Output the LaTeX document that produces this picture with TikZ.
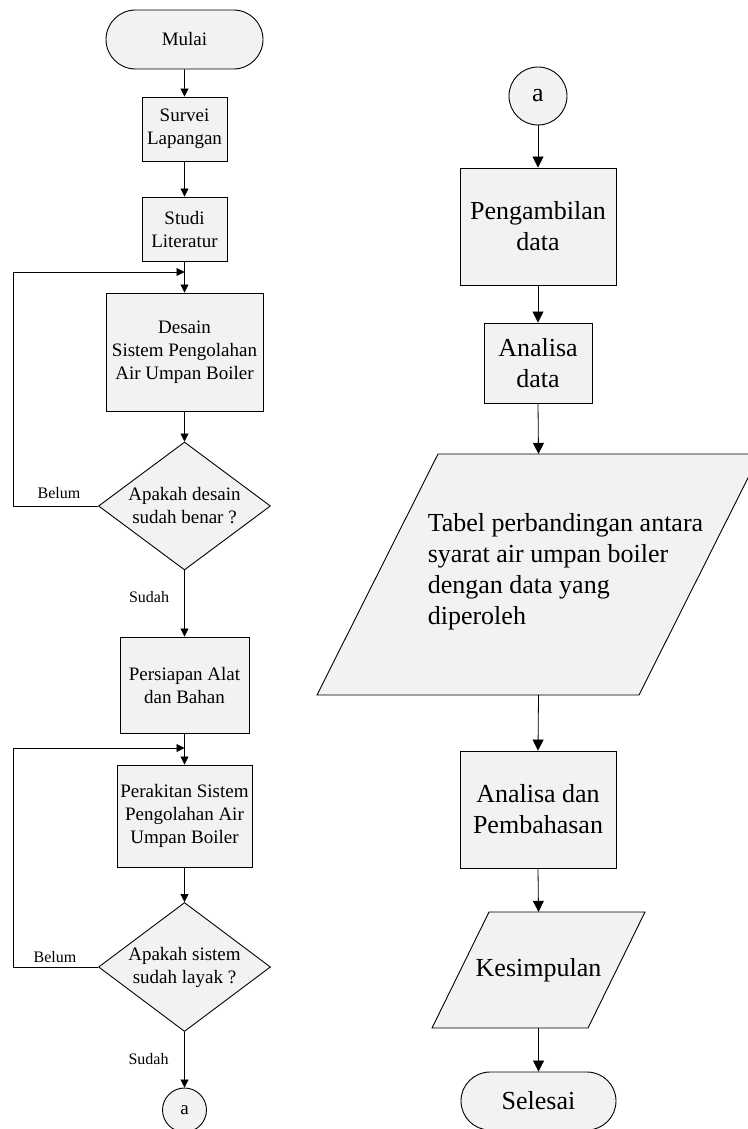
\documentclass[tikz,border=0pt]{standalone}
\usepackage{fontspec}
\setmainfont{Liberation Serif}
\usetikzlibrary{shapes.geometric,shapes.misc,arrows.meta}

\begin{document}
\begin{tikzpicture}[x=1pt,y=-1pt,
  every node/.style={inner sep=0pt,align=center},
  kecil/.style={font=\fontsize{19}{23}\selectfont},
  besar/.style={font=\fontsize{26}{31}\selectfont},
  ket/.style={font=\fontsize{16}{19}\selectfont},
  proses/.style={draw,fill=gray!10,line width=0.9pt,rectangle},
  ujung/.style={draw,fill=gray!10,line width=0.9pt,rounded rectangle},
  keputusan/.style={draw,fill=gray!10,line width=0.9pt,diamond,aspect=1.34},
  iobidang/.style={draw,fill=gray!10,line width=0.9pt},
  konektor/.style={draw,fill=gray!10,line width=0.9pt,circle},
  panah/.style={line width=0.8pt,-{Triangle[length=8pt,width=8pt]}},
  panahb/.style={line width=0.8pt,-{Triangle[length=11pt,width=11pt]}}]
\useasboundingbox (0,0) rectangle (747,1129);

% kolom kiri
\node[ujung,kecil,minimum width=157pt,minimum height=59pt] (mulai) at (184.5,39.5) {Mulai};
\node[proses,kecil,minimum width=85pt,minimum height=64pt] (survei) at (184.5,129) {Survei\\Lapangan};
\node[proses,kecil,minimum width=85pt,minimum height=64pt] (studi) at (184.5,229) {Studi\\Literatur};
\node[proses,kecil,minimum width=157pt,minimum height=118pt] (desain) at (184.5,352) {Desain\\Sistem Pengolahan\\Air Umpan Boiler};
\node[keputusan,kecil,minimum width=172pt,minimum height=128pt] (cek1) at (184.5,506) {Apakah desain\\sudah benar ?};
\node[proses,kecil,minimum width=129pt,minimum height=96pt] (persiapan) at (184.5,685) {Persiapan Alat\\dan Bahan};
\node[proses,kecil,minimum width=135pt,minimum height=102pt] (perakitan) at (184.5,816) {Perakitan Sistem\\Pengolahan Air\\Umpan Boiler};
\node[keputusan,kecil,minimum width=172pt,minimum height=129pt] (cek2) at (184.5,967) {Apakah sistem\\sudah layak ?};
\node[konektor,kecil,minimum size=44pt] (a1) at (184.5,1110) {a};

\coordinate (masuk1) at (184.5,272);
\coordinate (masuk2) at (184.5,748);

\draw[panah] (mulai) -- (survei);
\draw[panah] (survei) -- (studi);
\draw[panah] (studi) -- (desain);
\draw[panah] (desain) -- (cek1);
\draw[panah] (cek1) -- (persiapan);
\draw[panah] (persiapan) -- (perakitan);
\draw[panah] (perakitan) -- (cek2);
\draw[panah] (cek2) -- (a1);
\draw[panah] (cek1.west) -- ++(-84.5,0) |- (masuk1);
\draw[panah] (cek2.west) -- ++(-85,0) |- (masuk2);

\node[ket] (belum1) at (59,493) {Belum};
\node[ket] (sudah1) at (149,597) {Sudah};
\node[ket] (belum2) at (55,957) {Belum};
\node[ket] (sudah2) at (148.5,1059) {Sudah};

% kolom kanan
\node[konektor,besar,minimum size=58pt] (a2) at (538,96) {a};
\node[proses,besar,minimum width=156pt,minimum height=117pt] (ambil) at (538,226.5) {Pengambilan\\data};
\node[proses,besar,minimum width=108pt,minimum height=80pt] (analisa) at (538,363) {Analisa\\data};
% jajaran genjang
\draw[iobidang] (317,695) -- (438,454) -- (760,454) -- (639,695) -- cycle;
\node[minimum width=322pt,minimum height=241pt] (tabel) at (538.5,574.5) {};
\node[besar,align=left] (tabelteks) at (565.5,572) {Tabel perbandingan antara\\syarat air umpan boiler\\dengan data yang\\diperoleh};
\node[proses,besar,minimum width=156pt,minimum height=117pt] (bahas) at (538,809.5) {Analisa dan\\Pembahasan};
\draw[iobidang] (432,1028) -- (489,912) -- (645,912) -- (588,1028) -- cycle;
\node[besar,minimum width=156pt,minimum height=116pt] (simpul) at (538.5,970) {Kesimpulan};
\node[ujung,besar,minimum width=155pt,minimum height=58pt] (selesai) at (538.5,1101) {Selesai};

\draw[panahb] (a2) -- (ambil);
\draw[panahb] (ambil) -- (analisa);
\draw[panahb] (analisa.south) -- (tabel.north);
\draw[panahb] (tabel.south) -- (bahas.north);
\draw[panahb] (bahas.south) -- (simpul.north);
\draw[panahb] (simpul.south) -- (selesai.north);
\end{tikzpicture}
\end{document}
